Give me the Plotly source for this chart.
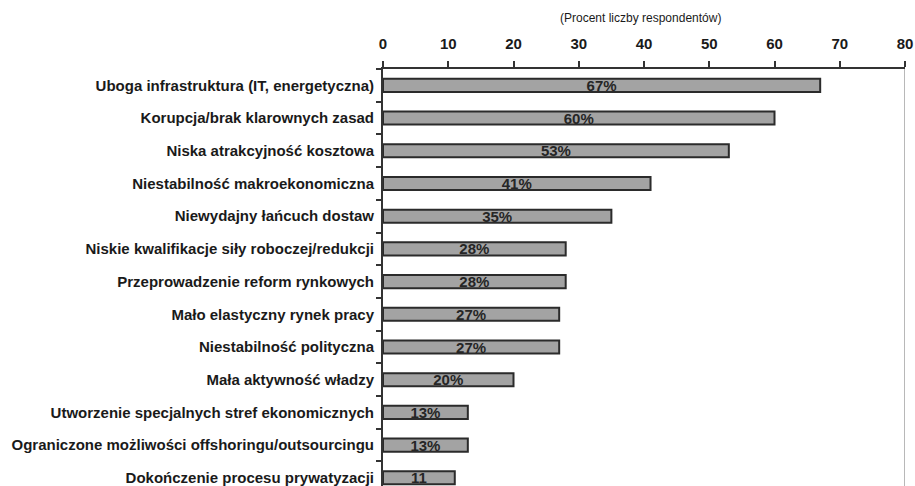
import plotly.graph_objects as go

# Survey barriers, share of respondents (%)
categories = [
    "Uboga infrastruktura (IT, energetyczna)",
    "Korupcja/brak klarownych zasad",
    "Niska atrakcyjność kosztowa",
    "Niestabilność makroekonomiczna",
    "Niewydajny łańcuch dostaw",
    "Niskie kwalifikacje siły roboczej/redukcji",
    "Przeprowadzenie reform rynkowych",
    "Mało elastyczny rynek pracy",
    "Niestabilność polityczna",
    "Mała aktywność władzy",
    "Utworzenie specjalnych stref ekonomicznych",
    "Ograniczone możliwości offshoringu/outsourcingu",
    "Dokończenie procesu prywatyzacji",
]
values = [67, 60, 53, 41, 35, 28, 28, 27, 27, 20, 13, 13, 11]
value_labels = ["67%", "60%", "53%", "41%", "35%", "28%", "28%", "27%", "27%", "20%", "13%", "13%", "11"]
x_ticks = [0, 10, 20, 30, 40, 50, 60, 70, 80]
axis_title = "(Procent liczby respondentów)"

font_family = "Liberation Sans, Arial, sans-serif"

fig = go.Figure(
    go.Bar(
        x=values,
        y=categories,
        orientation="h",
        marker=dict(color="#a3a3a3", line=dict(color="#2b2b2b", width=2)),
        text=value_labels,
        textposition="inside",
        insidetextanchor="middle",
        constraintext="none",
        textangle=0,
        textfont=dict(family=font_family, size=15, color="#262626", weight="bold"),
        width=0.4,
        cliponaxis=True,
    )
)

fig.update_layout(
    width=915,
    height=486,
    margin=dict(l=383, r=10, t=69, b=0),
    paper_bgcolor="white",
    plot_bgcolor="white",
    showlegend=False,
    xaxis=dict(
        side="top",
        range=[0, 80],
        tickvals=x_ticks,
        ticktext=[str(t) for t in x_ticks],
        showgrid=False,
        zeroline=False,
        showline=True,
        linecolor="#333333",
        linewidth=2,
        ticks="outside",
        ticklen=6,
        tickwidth=2,
        tickcolor="#333333",
        ticklabelstandoff=6,
        tickfont=dict(family=font_family, size=15, color="#1a1a1a", weight="bold"),
        fixedrange=True,
    ),
    yaxis=dict(
        type="category",
        categoryorder="array",
        categoryarray=categories,
        range=[12.25, -0.5],
        showgrid=False,
        zeroline=False,
        showline=True,
        linecolor="#333333",
        linewidth=2,
        ticks="outside",
        tickson="boundaries",
        ticklen=5,
        tickwidth=2,
        tickcolor="#333333",
        ticklabelstandoff=4,
        tickfont=dict(family=font_family, size=15, color="#1a1a1a", weight="bold"),
        fixedrange=True,
    ),
    shapes=[
        dict(
            type="line", xref="x", yref="paper",
            x0=80, x1=80, y0=0, y1=1,
            line=dict(color="#b8b8b8", width=2),
        )
    ],
    annotations=[
        dict(
            text=axis_title,
            xref="paper", yref="paper",
            x=0.494, y=1, yshift=51,
            xanchor="center", yanchor="middle",
            showarrow=False,
            font=dict(family=font_family, size=12, color="#1a1a1a"),
        )
    ],
)

fig.write_html("out.html", config={"displayModeBar": False})
